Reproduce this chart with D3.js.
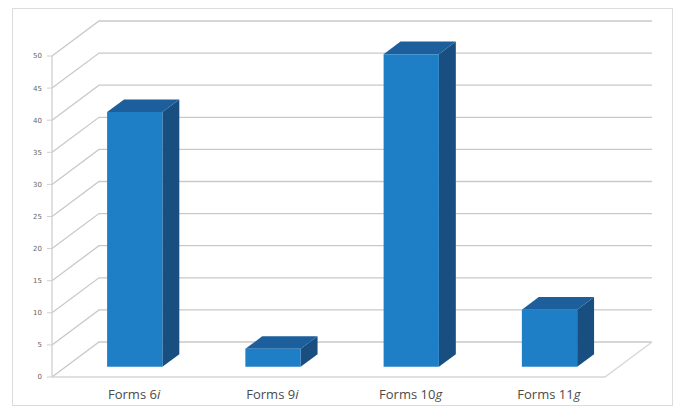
<!DOCTYPE html>
<html lang="en">
<head>
<meta charset="utf-8">
<script src="https://d3js.org/d3.v7.min.js"></script>
<style>
  body { margin: 0; background: #fff; }
  svg { display: block; }
</style>
</head>
<body>
<script>
  // data
  var categories = ["6i", "9i", "10g", "11g"];
  var labelNames = ["Forms", "Forms", "Forms", "Forms"];
  var values = [39.7, 2.8, 48.7, 8.9];
  var tickValues = [0, 5, 10, 15, 20, 25, 30, 35, 40, 45, 50];

  var width = 679, height = 408;
  var depthX = 47, depthY = -35;   // floor depth vector
  var f0 = 0.29, f1 = 0.65;         // bar front/back plane as fraction of depth

  var svg = d3.select('body').append('svg').attr('width', width).attr('height', height);

  // outer frame
  svg.append('rect')
    .attr('x', 12.5).attr('y', 8.5).attr('width', 660).attr('height', 397)
    .attr('fill', '#fff').attr('stroke', '#dcdcdc');

  var x = d3.scaleBand().domain(categories).range([52, 605]);
  var y = d3.scaleLinear().domain([0, 50]).range([377, 56]);

  function p(px, py, f) { return [px + f * depthX, py + f * depthY]; }
  function path(pts) { return 'M' + pts.map(function(d) { return d[0] + ',' + d[1]; }).join('L') + 'Z'; }

  var grid = svg.append('g').attr('fill', 'none').attr('stroke', '#c9c9c9').attr('stroke-width', 1.3);

  // gridlines: diagonal on left wall, horizontal on back wall
  tickValues.forEach(function(v) {
    var a = [52, y(v)], b = p(52, y(v), 1);
    grid.append('path').attr('d', 'M' + a + 'L' + b + 'L' + (605 + depthX) + ',' + b[1]);
  });

  // floor front and right edges
  var fr = p(605, y(0), 1);
  grid.append('path').attr('stroke', '#d6d6d6')
    .attr('d', 'M52,' + y(0) + 'L605,' + y(0) + 'L' + fr);

  // vertical axis
  svg.append('line').attr('x1', 52).attr('x2', 52).attr('y1', y(50)).attr('y2', y(0))
    .attr('stroke', '#cfcfcf').attr('stroke-width', 1.3);

  var axis = svg.append('g');
  tickValues.forEach(function(v) {
    axis.append('line').attr('x1', 47).attr('x2', 52).attr('y1', y(v)).attr('y2', y(v))
      .attr('stroke', '#cfcfcf');
    axis.append('text').attr('x', 42).attr('y', y(v)).attr('dy', '0.35em')
      .attr('text-anchor', 'end').attr('font-family', 'DejaVu Sans').attr('font-size', 7)
      .attr('fill', '#666').text(v);
  });

  // bars
  var bars = svg.append('g');
  categories.forEach(function(c, i) {
    var w = x.bandwidth() * 0.4;
    var x0 = x(c) + (x.bandwidth() - w) / 2, x1 = x0 + w;
    var yb = y(0), yt = y(values[i]);
    var fl = p(x0, yt, f0), frt = p(x1, yt, f0), frb = p(x1, yb, f0), flb = p(x0, yb, f0);
    var bl = p(x0, yt, f1), brt = p(x1, yt, f1), brb = p(x1, yb, f1);
    bars.append('path').attr('d', path([frt, brt, brb, frb])).attr('fill', '#184f80');
    bars.append('path').attr('d', path([fl, bl, brt, frt])).attr('fill', '#1c5f9c');
    bars.append('path').attr('d', path([fl, frt, frb, flb])).attr('fill', '#1f7fc6');
  });

  // category labels
  var labels = svg.append('g');
  categories.forEach(function(c, i) {
    var t = labels.append('text')
      .attr('x', x(c) + x.bandwidth() / 2 + 13).attr('y', 399)
      .attr('text-anchor', 'middle').attr('font-family', 'Open Sans').attr('font-size', 13)
      .attr('fill', '#4a4a4a');
    t.append('tspan').text(labelNames[i] + ' ' + c.replace(/[a-z]/, ''));
    t.append('tspan').attr('font-style', 'italic').text(c.replace(/[0-9]/g, ''));
  });
</script>
</body>
</html>
